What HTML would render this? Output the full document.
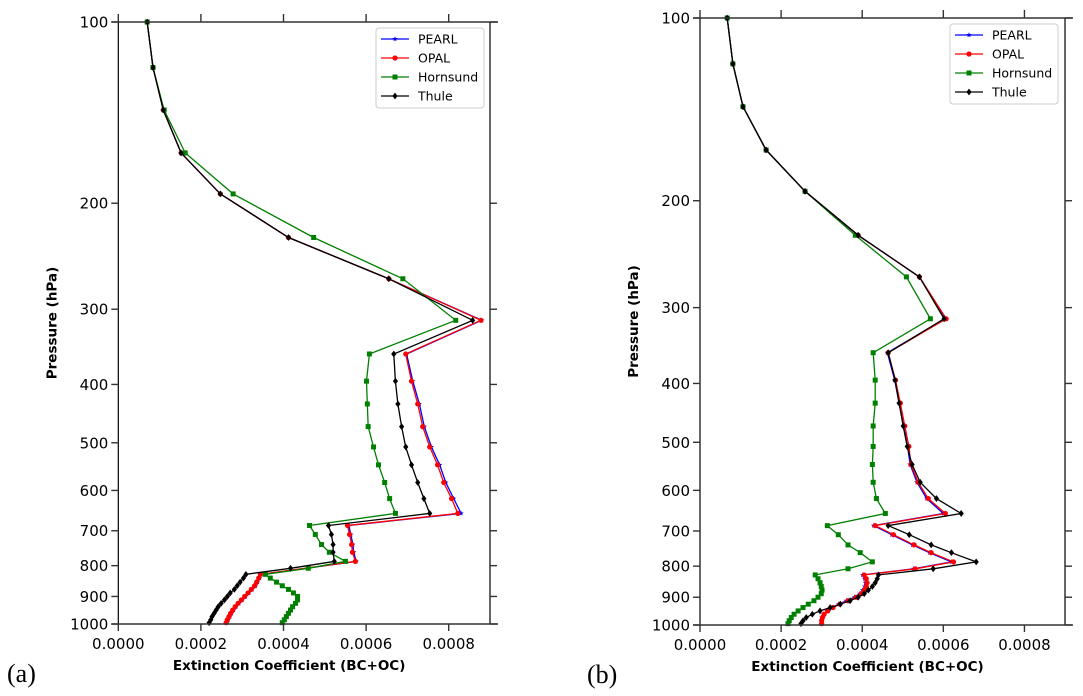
<!DOCTYPE html>
<html><head><meta charset="utf-8"><style>
body{margin:0;background:#fff;}
svg{display:block;font-family:"DejaVu Sans","Liberation Sans",sans-serif;}
</style></head><body>
<svg id="chart" width="1083" height="696" xmlns="http://www.w3.org/2000/svg"></svg>
<script>
const levels=[100,119,140,165,193,228,267,313,356,395,431,470,508,544,582,619,655,686,710,738,760,787,808,827,839,852,864,876,888,900,912,924,936,948,960,972,984,995];
const seriesNames=["PEARL","OPAL","Hornsund","Thule"];
const aOpal=[0.00007,0.000084,0.000109,0.000152,0.000247,0.000412,0.000655,0.000878,0.000696,0.00071,0.000725,0.000737,0.000754,0.000773,0.000788,0.000807,0.000822,0.000555,0.00056,0.000565,0.000567,0.000574,null,0.000344,0.00034,0.000335,0.00033,0.000322,0.000314,0.000306,0.000298,0.00029,0.000283,0.000277,0.000272,0.000268,0.000264,0.000261];
const aPearl=[0.00007,0.000084,0.000109,0.000152,0.000247,0.000412,0.000655,0.00088,0.000698,0.000713,0.000729,0.000741,0.000758,0.000778,0.000793,0.000812,0.00083,0.000558,0.000563,0.000568,0.00057,0.000576,null,0.000346,0.000342,0.000337,0.000332,0.000324,0.000316,0.000308,0.0003,0.000292,0.000285,0.000279,0.000274,0.00027,0.000266,0.000263];
const aHorn=[0.00007,0.000084,0.000111,0.000162,0.000278,0.000473,0.000689,0.000817,0.000608,0.000601,0.000603,0.000605,0.000618,0.00063,0.000645,0.000657,0.000671,0.000463,0.000477,0.000492,0.000511,0.00055,0.00046,0.000356,0.000368,0.000383,0.000397,0.000412,0.000424,0.000434,0.000434,0.000429,0.000422,0.000417,0.000412,0.000407,0.000402,0.000397];
const aThule=[0.00007,0.000084,0.000109,0.000152,0.000247,0.000412,0.000655,0.000858,0.000667,0.000671,0.000677,0.000686,0.000696,0.00071,0.000725,0.00074,0.000754,0.000509,0.000516,0.00052,0.00052,0.000523,0.000417,0.000309,0.000303,0.000295,0.000288,0.000281,0.000271,0.000264,0.000257,0.000249,0.000242,0.000237,0.000232,0.000227,0.000224,0.00022];
const bOpal=[0.000067,0.000081,0.000106,0.000163,0.000259,0.00039,0.000541,0.000607,0.000464,0.000482,0.000494,0.000505,0.000515,0.00052,0.000538,0.000563,0.000605,0.000432,0.000477,0.000528,0.00057,0.000625,0.000531,0.000405,0.00041,0.000412,0.00041,0.000405,0.000398,0.000385,0.000365,0.000345,0.000328,0.000315,0.000306,0.000302,0.0003,0.0003];
const bPearl=[0.000067,0.000081,0.000106,0.000163,0.000259,0.00039,0.000541,0.000604,0.000462,0.00048,0.000491,0.000502,0.000512,0.000518,0.000535,0.000559,0.0006,0.000428,0.000473,0.000524,0.000566,0.00062,0.000527,0.000401,0.000406,0.000408,0.000406,0.000401,0.000394,0.000381,0.000361,0.000342,0.000326,0.000313,0.000305,0.000301,0.000299,0.000299];
const bHorn=[0.000067,0.000081,0.000106,0.000163,0.000259,0.000383,0.000509,0.000568,0.000427,0.000432,0.000432,0.000427,0.000427,0.000425,0.000427,0.000435,0.000457,0.000314,0.000341,0.000365,0.000395,0.000425,0.000365,0.000284,0.000291,0.000296,0.000299,0.000301,0.000299,0.000291,0.000281,0.000267,0.000254,0.000242,0.000232,0.000225,0.00022,0.000217];
const bThule=[0.000067,0.000081,0.000106,0.000163,0.000259,0.00039,0.000541,0.000602,0.000464,0.000481,0.000491,0.000501,0.000511,0.000523,0.000543,0.000583,0.000644,0.000464,0.000516,0.00057,0.00062,0.000681,0.000575,0.00044,0.000437,0.000432,0.000425,0.000415,0.000405,0.00039,0.00037,0.000346,0.000321,0.000296,0.000277,0.000262,0.000254,0.000249];
const xTicks=[0,0.0002,0.0004,0.0006,0.0008];
const xTickLabels=["0.0000","0.0002","0.0004","0.0006","0.0008"];
const yTicks=[100,200,300,400,500,600,700,800,900,1000];
const colors=["#0000ff","#ff0000","#008000","#000000"];
const markers=["star","circle","square","diamond"];
const NS="http://www.w3.org/2000/svg";
const svg=document.getElementById('chart');
function mk(tag,attrs,parent){const e=document.createElementNS(NS,tag);for(const k in attrs)e.setAttribute(k,attrs[k]);(parent||svg).appendChild(e);return e;}
function marker(g,type,x,y,c){let e;
 if(type==="circle")e=mk('circle',{cx:x,cy:y,r:2.6,fill:c},g);
 else if(type==="square")e=mk('rect',{x:x-2.5,y:y-2.5,width:5,height:5,fill:c},g);
 else if(type==="diamond")e=mk('polygon',{points:`${x},${y-3.4} ${x+2.6},${y} ${x},${y+3.4} ${x-2.6},${y}`,fill:c},g);
 else {let p=[];for(let i=0;i<10;i++){const r=i%2?1.2:2.8,a=-Math.PI/2+i*Math.PI/5;p.push((x+r*Math.cos(a)).toFixed(1)+","+(y+r*Math.sin(a)).toFixed(1));}e=mk('polygon',{points:p.join(' '),fill:c},g);}
 
 
}
function panel(id,L,R,T,B,data,leg,label,lx){
 const g=mk('g',{});
 
 
 const xmax=0.0009;
 const X=v=>L+(v/xmax)*(R-L);
 const Y=p=>T+Math.log10(p/100)*(B-T);
 [0,1,2,3].forEach(si=>{
  const vals=data[si];const sg=mk('g',{},g);
  
  
  let pts=[];
  vals.forEach((v,i)=>{if(v!=null&&i<levels.length)pts.push([X(v),Y(levels[i])]);});
  const pl=mk('polyline',{points:pts.map(p=>p[0].toFixed(1)+","+p[1].toFixed(1)).join(' '),fill:'none',stroke:colors[si],'stroke-width':1.3},sg);
  
  
  pts.forEach(p=>marker(sg,markers[si],p[0],p[1],colors[si]));
 });
 mk('line',{x1:L,y1:T,x2:L,y2:B,stroke:'#000','stroke-width':1.2},g);
 mk('line',{x1:R,y1:T,x2:R,y2:B,stroke:'#000','stroke-width':1.2},g);
 mk('line',{x1:L-7,y1:T,x2:R+8,y2:T,stroke:'#333','stroke-width':1.6},g);
 mk('line',{x1:L-7,y1:B,x2:R+8,y2:B,stroke:'#333','stroke-width':1.6},g);
 xTicks.forEach((t,i)=>{const x=X(t);
  mk('line',{x1:x,y1:B,x2:x,y2:B+7,stroke:'#333','stroke-width':1.4},g);
  mk('line',{x1:x,y1:T,x2:x,y2:T-8,stroke:'#333','stroke-width':1.4},g);
  const tx=mk('text',{x:x,y:B+25,'font-size':15,'text-anchor':'middle',fill:'#000'},g);
  tx.textContent=xTickLabels[i];
  
  
 });
 yTicks.forEach(t=>{const y=Y(t);
  mk('line',{x1:L-7,y1:y,x2:L,y2:y,stroke:'#333','stroke-width':1.4},g);
  mk('line',{x1:R,y1:y,x2:R+7,y2:y,stroke:'#333','stroke-width':1.4},g);
  const tx=mk('text',{x:L-10,y:y+5.5,'font-size':15,'text-anchor':'end',fill:'#000'},g);
  tx.textContent=String(t);
  
  
 });
 const xt=mk('text',{x:(L+R)/2-15,y:B+46,'font-size':13.5,'font-weight':'bold','text-anchor':'middle'},g);
 xt.textContent="Extinction Coefficient (BC+OC)";
 
 
 const yc=(T+B)/2;
 const yt=mk('text',{x:L-62,y:yc,'font-size':13.5,'font-weight':'bold','text-anchor':'middle',transform:`rotate(-90 ${L-62} ${yc})`},g);
 yt.textContent="Pressure (hPa)";
 
 
 const pl=mk('text',{x:lx,y:B+58,'font-size':26,'font-family':'"Liberation Serif",serif'},g);
 pl.textContent=label;
 
 
 const lg=mk('g',{},g);
 
 
 mk('rect',{x:leg[0],y:leg[1],width:108,height:80,rx:3,fill:'#fff',stroke:'#ccc','stroke-width':1},lg);
 seriesNames.forEach((n,i)=>{const y=leg[1]+11+i*19;
  const e=mk('g',{},lg);
  
  
  mk('line',{x1:leg[0]+5,y1:y,x2:leg[0]+33,y2:y,stroke:colors[i],'stroke-width':1.3},e);
  marker(e,markers[i],leg[0]+19,y,colors[i]);
  const t=mk('text',{x:leg[0]+42,y:y+4.5,'font-size':12.5},e);t.textContent=n;
 });
}
panel('panel-a',118.3,490,22,624,[aPearl,aOpal,aHorn,aThule],[376,28],'(a)',7);
panel('panel-b',700,1065,18,625,[bPearl,bOpal,bHorn,bThule],[950,24],'(b)',587);
</script>
</body></html>
